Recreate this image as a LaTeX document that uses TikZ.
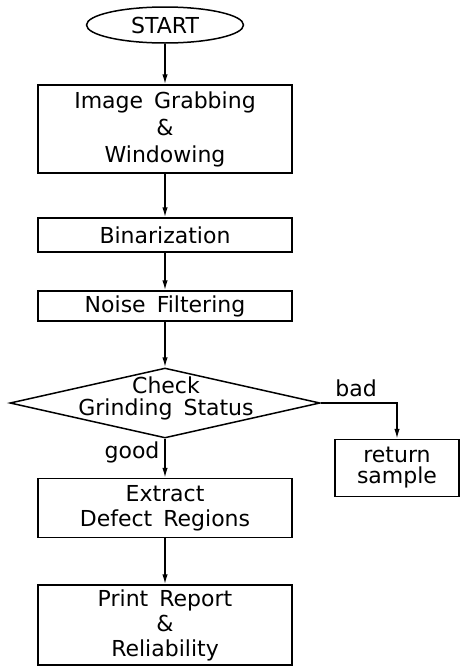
\documentclass[tikz,border=0pt]{standalone}
\usepackage{fontspec}
\setmainfont{DejaVu Sans}
\usetikzlibrary{shapes.geometric,arrows.meta}
\begin{document}
\begin{tikzpicture}[x=1pt,y=-1pt,
  every node/.style={font=\fontsize{22}{26}\selectfont},
  proc/.style={draw, line width=1.5pt, rectangle, align=center, inner sep=0pt, minimum width=254pt},
  term/.style={draw, line width=1.5pt, ellipse, inner sep=0pt, minimum width=157pt, minimum height=36pt},
  decision/.style={draw, line width=1.5pt, diamond, inner sep=0pt, minimum width=310pt, minimum height=70pt},
  flow/.style={line width=1.5pt, -{Latex[length=10pt,width=5.5pt]}},
  lbl/.style={inner sep=0pt, align=center}
]
\useasboundingbox (0,0) rectangle (460,667);
\node[term] (start) at (165,25) {START};
\node[proc, minimum height=88pt, font=\fontsize{22}{27}\selectfont] (grab) at (165,129) {Image\,\,\,Grabbing\\\&\\Windowing};
\node[proc, minimum height=34pt] (bin) at (165,235) {Binarization};
\node[proc, minimum height=30pt] (noise) at (165,306) {Noise\,\,\,Filtering};
\node[decision] (check) at (165,403) {};
\node[lbl, font=\fontsize{22}{22}\selectfont] (checktext) at (166,398) {Check\\Grinding\,\,\,Status};
\node[proc, minimum width=124pt, minimum height=57pt, font=\fontsize{22}{21}\selectfont] (ret) at (397,468) {return\\sample};
\node[proc, minimum height=59pt, font=\fontsize{22}{25}\selectfont] (extract) at (165,508) {Extract\\Defect\,\,\,Regions};
\node[proc, minimum height=80pt, font=\fontsize{22}{25}\selectfont] (print) at (165,625) {Print\,\,\,Report\\\&\\Reliability};
\node[lbl] (bad) at (356,388) {bad};
\node[lbl] (good) at (132,452) {good};
\draw[flow] (start) -- (grab);
\draw[flow] (grab) -- (bin);
\draw[flow] (bin) -- (noise);
\draw[flow] (noise) -- (check);
\draw[flow] (check) -- (extract);
\draw[flow] (extract) -- (print);
\draw[flow] (check.east) -| (ret.north);
\end{tikzpicture}
\end{document}
